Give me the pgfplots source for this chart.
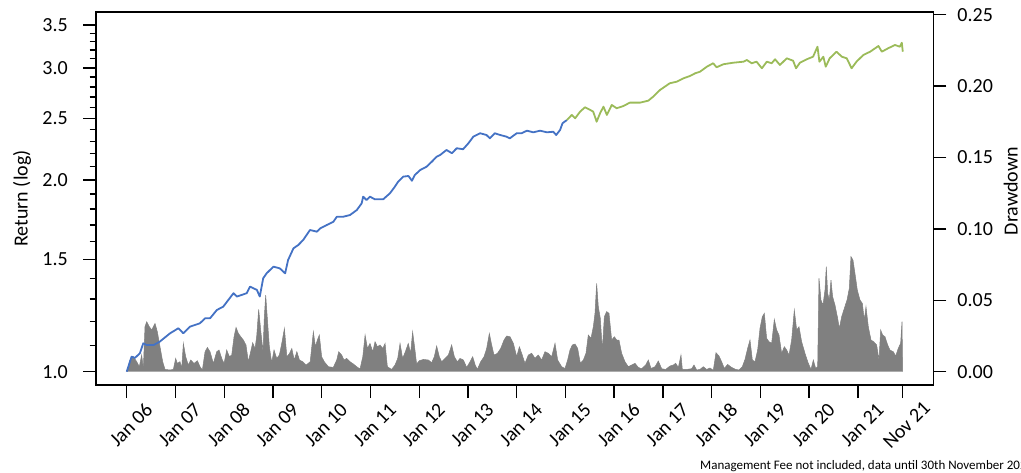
\documentclass[border=0pt]{standalone}
\usepackage{pgfplots}
\usepackage{pgfplotstable}
\pgfplotsset{compat=1.18}
\usepackage{fontspec}
\setmainfont{Carlito}
\definecolor{retblue}{HTML}{4472C4}
\definecolor{retgreen}{HTML}{9BBB59}
\definecolor{ddgray}{HTML}{808080}

\pgfplotstableread{
yr val
2006.00 1.000
2006.10 1.056
2006.17 1.051
2006.27 1.069
2006.34 1.108
2006.41 1.101
2006.55 1.101
2006.68 1.115
2006.89 1.149
2007.06 1.170
2007.16 1.149
2007.30 1.177
2007.50 1.191
2007.61 1.213
2007.71 1.213
2007.85 1.250
2007.98 1.265
2008.19 1.328
2008.26 1.312
2008.46 1.328
2008.53 1.360
2008.67 1.344
2008.73 1.312
2008.80 1.402
2008.87 1.427
2009.01 1.462
2009.14 1.453
2009.25 1.427
2009.31 1.497
2009.42 1.562
2009.52 1.581
2009.62 1.610
2009.76 1.669
2009.90 1.659
2009.97 1.679
2010.10 1.699
2010.24 1.720
2010.31 1.751
2010.44 1.751
2010.58 1.762
2010.72 1.794
2010.82 1.838
2010.85 1.883
2010.92 1.860
2010.99 1.883
2011.09 1.865
2011.26 1.865
2011.40 1.906
2011.50 1.952
2011.57 1.988
2011.67 2.024
2011.78 2.029
2011.85 1.995
2011.91 2.036
2012.02 2.073
2012.15 2.098
2012.26 2.137
2012.36 2.176
2012.43 2.189
2012.56 2.229
2012.67 2.203
2012.77 2.243
2012.90 2.235
2013.01 2.284
2013.11 2.339
2013.25 2.368
2013.38 2.353
2013.45 2.325
2013.55 2.368
2013.66 2.353
2013.79 2.339
2013.86 2.325
2014.00 2.368
2014.10 2.368
2014.21 2.390
2014.34 2.376
2014.48 2.390
2014.62 2.376
2014.75 2.381
2014.81 2.353
2014.89 2.396
2014.94 2.455
2015.03 2.484
}\bluetab

\pgfplotstableread{
yr val
2015.03 2.484
2015.13 2.530
2015.20 2.500
2015.30 2.560
2015.40 2.601
2015.51 2.576
2015.57 2.560
2015.64 2.469
2015.71 2.545
2015.78 2.607
2015.85 2.530
2015.95 2.623
2016.05 2.592
2016.19 2.613
2016.32 2.645
2016.53 2.645
2016.70 2.664
2016.80 2.703
2016.94 2.769
2017.14 2.837
2017.28 2.853
2017.42 2.888
2017.55 2.912
2017.66 2.941
2017.76 2.958
2017.90 3.012
2018.03 3.050
2018.10 3.006
2018.24 3.039
2018.44 3.056
2018.65 3.067
2018.72 3.086
2018.82 3.050
2018.92 3.067
2019.03 2.995
2019.13 3.067
2019.23 3.050
2019.30 3.094
2019.40 3.031
2019.54 3.105
2019.67 3.078
2019.73 2.995
2019.81 3.056
2019.95 3.094
2020.08 3.123
2020.17 3.238
2020.21 3.067
2020.29 3.123
2020.34 3.012
2020.42 3.105
2020.56 3.180
2020.67 3.123
2020.77 3.105
2020.87 2.995
2020.97 3.067
2021.11 3.142
2021.25 3.180
2021.42 3.246
2021.49 3.180
2021.62 3.220
2021.76 3.258
2021.86 3.238
2021.90 3.285
2021.92 3.180
}\greentab

\pgfplotstableread{
yr dd
2006.000 0
2006.068 0.0082
2006.137 0.0105
2006.205 0.0070
2006.259 0.0035
2006.307 0.0117
2006.341 0.0023
2006.375 0.0315
2006.410 0.0350
2006.464 0.0315
2006.512 0.0292
2006.581 0.0338
2006.628 0.0280
2006.683 0.0175
2006.738 0.0070
2006.786 0.0016
2006.888 0.0012
2006.957 0.0016
2007.004 0.0093
2007.039 0.0058
2007.093 0.0070
2007.128 0.0023
2007.162 0.0198
2007.210 0.0105
2007.264 0.0047
2007.313 0.0082
2007.381 0.0058
2007.450 0.0077
2007.504 0.0035
2007.552 0.0012
2007.607 0.0140
2007.655 0.0170
2007.709 0.0140
2007.778 0.0058
2007.846 0.0140
2007.894 0.0152
2007.949 0.0093
2007.997 0.0058
2008.051 0.0152
2008.106 0.0105
2008.154 0.0117
2008.202 0.0245
2008.243 0.0310
2008.290 0.0269
2008.339 0.0245
2008.393 0.0222
2008.447 0.0187
2008.495 0.0070
2008.543 0.0140
2008.584 0.0203
2008.632 0.0163
2008.666 0.0245
2008.707 0.0437
2008.755 0.0269
2008.796 0.0140
2008.823 0.0385
2008.851 0.0537
2008.892 0.0338
2008.926 0.0175
2008.974 0.0063
2009.022 0.0152
2009.077 0.0093
2009.132 0.0117
2009.187 0.0210
2009.235 0.0303
2009.285 0.0105
2009.340 0.0128
2009.387 0.0163
2009.435 0.0082
2009.490 0.0140
2009.544 0.0082
2009.613 0.0070
2009.681 0.0047
2009.764 0.0070
2009.829 0.0280
2009.870 0.0175
2009.911 0.0222
2009.951 0.0257
2009.999 0.0105
2010.053 0.0070
2010.136 0.0035
2010.238 0.0030
2010.308 0.0082
2010.349 0.0140
2010.409 0.0117
2010.457 0.0082
2010.512 0.0093
2010.581 0.0070
2010.650 0.0054
2010.718 0.0035
2010.786 0.0019
2010.843 0.0105
2010.890 0.0257
2010.939 0.0163
2010.991 0.0198
2011.048 0.0140
2011.094 0.0210
2011.143 0.0175
2011.196 0.0187
2011.253 0.0163
2011.300 0.0198
2011.347 0.0035
2011.434 0.0016
2011.504 0.0047
2011.559 0.0093
2011.607 0.0198
2011.660 0.0093
2011.716 0.0140
2011.776 0.0198
2011.824 0.0128
2011.865 0.0280
2011.913 0.0152
2011.947 0.0054
2012.002 0.0077
2012.084 0.0086
2012.188 0.0082
2012.255 0.0063
2012.310 0.0105
2012.358 0.0180
2012.413 0.0105
2012.461 0.0070
2012.530 0.0093
2012.598 0.0117
2012.666 0.0187
2012.721 0.0105
2012.782 0.0070
2012.837 0.0093
2012.906 0.0082
2012.974 0.0030
2013.043 0.0070
2013.097 0.0105
2013.149 0.0047
2013.192 0.0016
2013.261 0.0070
2013.330 0.0105
2013.384 0.0163
2013.439 0.0268
2013.487 0.0187
2013.534 0.0117
2013.603 0.0128
2013.672 0.0163
2013.740 0.0222
2013.795 0.0250
2013.863 0.0245
2013.932 0.0198
2014.000 0.0105
2014.055 0.0175
2014.102 0.0129
2014.170 0.0059
2014.239 0.0117
2014.307 0.0129
2014.375 0.0094
2014.444 0.0117
2014.512 0.0082
2014.580 0.0140
2014.649 0.0129
2014.717 0.0105
2014.786 0.0199
2014.840 0.0082
2014.922 0.0035
2014.991 0.0023
2015.045 0.0082
2015.093 0.0152
2015.141 0.0187
2015.196 0.0194
2015.250 0.0164
2015.305 0.0059
2015.367 0.0082
2015.421 0.0129
2015.469 0.0257
2015.524 0.0234
2015.572 0.0315
2015.606 0.0409
2015.640 0.0619
2015.674 0.0455
2015.715 0.0374
2015.757 0.0152
2015.798 0.0385
2015.845 0.0421
2015.893 0.0409
2015.948 0.0222
2016.003 0.0245
2016.050 0.0222
2016.098 0.0222
2016.153 0.0129
2016.221 0.0070
2016.290 0.0035
2016.358 0.0047
2016.427 0.0059
2016.495 0.0030
2016.563 0.0021
2016.645 0.0047
2016.700 0.0082
2016.755 0.0023
2016.837 0.0035
2016.905 0.0075
2016.974 0.0021
2017.056 0.0016
2017.145 0.0040
2017.213 0.0047
2017.261 0.0059
2017.316 0.0030
2017.370 0.0117
2017.398 0.0016
2017.486 0.0016
2017.589 0.0021
2017.637 0.0047
2017.692 0.0012
2017.760 0.0016
2017.828 0.0035
2017.897 0.0016
2017.965 0.0026
2018.033 0.0010
2018.088 0.0133
2018.150 0.0110
2018.204 0.0070
2018.259 0.0023
2018.327 0.0051
2018.409 0.0030
2018.492 0.0016
2018.560 0.0012
2018.628 0.0035
2018.683 0.0086
2018.738 0.0164
2018.786 0.0222
2018.834 0.0082
2018.888 0.0070
2018.943 0.0152
2018.991 0.0303
2019.039 0.0385
2019.080 0.0409
2019.127 0.0234
2019.175 0.0210
2019.230 0.0199
2019.285 0.0366
2019.333 0.0292
2019.380 0.0257
2019.435 0.0129
2019.490 0.0175
2019.538 0.0152
2019.586 0.0117
2019.640 0.0222
2019.695 0.0432
2019.743 0.0292
2019.791 0.0315
2019.845 0.0210
2019.914 0.0129
2019.982 0.0059
2020.037 0.0016
2020.085 0.0082
2020.133 0.0023
2020.174 0.0035
2020.201 0.0654
2020.242 0.0502
2020.283 0.0467
2020.324 0.0572
2020.351 0.0736
2020.379 0.0549
2020.413 0.0502
2020.447 0.0642
2020.481 0.0525
2020.529 0.0467
2020.584 0.0374
2020.618 0.0303
2020.666 0.0385
2020.721 0.0444
2020.776 0.0502
2020.823 0.0584
2020.857 0.0806
2020.898 0.0782
2020.939 0.0689
2020.987 0.0572
2021.042 0.0502
2021.090 0.0479
2021.131 0.0362
2021.165 0.0455
2021.213 0.0315
2021.268 0.0222
2021.323 0.0210
2021.384 0.0187
2021.432 0.0082
2021.466 0.0292
2021.507 0.0257
2021.555 0.0245
2021.610 0.0187
2021.657 0.0152
2021.726 0.0140
2021.774 0.0110
2021.828 0.0164
2021.876 0.0199
2021.904 0.0350
2021.918 0
}\ddtab

\pgfplotsset{
  mybase/.style={
    at={(96pt,87pt)}, anchor=south west,
    width=837.3pt, height=373pt, scale only axis,
    xmin=2005.370, xmax=2022.546,
    tick align=outside,
    major tick length=13pt,
    minor tick length=6.5pt,
    tick style={black, line width=1.4pt},
    axis line style={black, line width=1.5pt},
    ticklabel style={font=\fontsize{20}{24}\selectfont},
    /pgf/number format/assume math mode=true,
  }
}

\begin{document}
\begin{tikzpicture}
\useasboundingbox (0pt,0pt) rectangle (1021pt,472pt);

\begin{axis}[mybase,
  ymin=-0.0093, ymax=0.2519,
  xtick pos=bottom, ytick pos=right,
  xtick={2006,2007,2008,2009,2010,2011,2012,2013,2014,2015,2016,2017,2018,2019,2020,2021,2021.91},
  xticklabels={Jan 06,Jan 07,Jan 08,Jan 09,Jan 10,Jan 11,Jan 12,Jan 13,Jan 14,Jan 15,Jan 16,Jan 17,Jan 18,Jan 19,Jan 20,Jan 21,Nov 21},
  xticklabel style={rotate=45, anchor=center, xshift=-16pt, yshift=-22pt, inner sep=0pt},
  ytick={0,0.05,0.10,0.15,0.20,0.25},
  yticklabels={0.00,0.05,0.10,0.15,0.20,0.25},
  yticklabel style={anchor=west, inner sep=0pt, xshift=11pt},
  ylabel={Drawdown},
  ylabel style={at={(axis description cs:1.0925,0.52)}, anchor=center, inner sep=0pt, font=\fontsize{20}{24}\selectfont},
]
\addplot[fill=ddgray, draw=ddgray, line width=0.5pt] table[x=yr, y=dd] {\ddtab};
\end{axis}

\begin{axis}[mybase,
  ymode=log,
  ymin=0.953, ymax=3.671,
  hide x axis,
  axis y line*=left,
  ytick={1,1.5,2,2.5,3,3.5},
  yticklabels={1.0,1.5,2.0,2.5,3.0,3.5},
  minor ytick={1.1,1.2,1.3,1.4,1.6,1.7,1.8,1.9,2.1,2.2,2.3,2.4,2.6,2.7,2.8,2.9,3.1,3.2,3.3,3.4},
  yticklabel style={anchor=east, inner sep=0pt, xshift=-15pt},
  ylabel={Return (log)},
  ylabel style={at={(axis description cs:-0.0884,0.5)}, anchor=center, inner sep=0pt, font=\fontsize{20}{24}\selectfont},
]
\addplot[retblue, line width=1.8pt, line join=round] table[x=yr, y=val] {\bluetab};
\addplot[retgreen, line width=1.8pt, line join=round] table[x=yr, y=val] {\greentab};
\end{axis}

\node[anchor=base west, font=\fontsize{13}{15}\selectfont, inner sep=0pt] at (700pt,3pt) {Management Fee not included, data until 30th November 2021};
\end{tikzpicture}
\end{document}
